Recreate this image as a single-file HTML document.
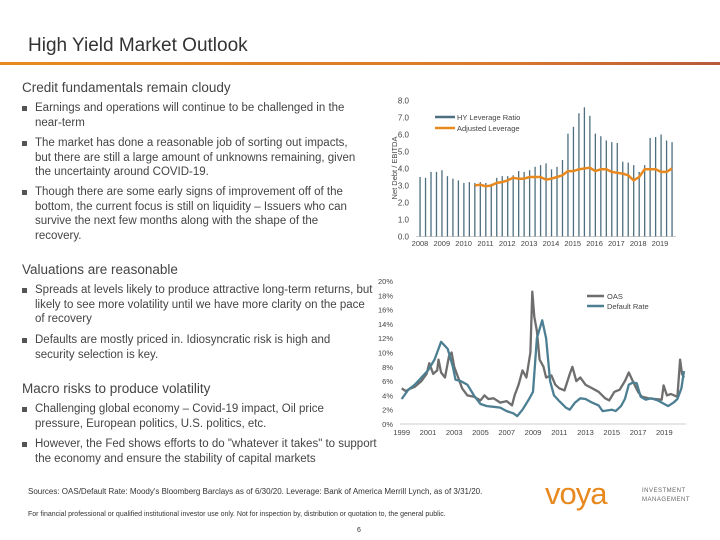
<!DOCTYPE html>
<html><head><meta charset="utf-8"><style>
body{margin:0;width:720px;height:540px;background:#fff;font-family:"Liberation Sans",sans-serif;color:#333;position:relative;overflow:hidden}
.a{position:absolute}
.h{font-size:13.5px;color:#444}
.b{font-size:11.5px;line-height:14.5px;color:#444;padding-left:15px;width:330px}
.b:before{content:"";position:absolute;left:2px;top:5px;width:5px;height:5px;background:#555}
svg text{font-family:"Liberation Sans",sans-serif}
</style></head><body>
<div class="a" style="left:28px;top:35px;font-size:19px;color:#333">High Yield Market Outlook</div>
<div class="a" style="left:0;top:62px;width:720px;height:3px;background:linear-gradient(90deg,#e8891f,#d9782c 70%,#b85a3a)"></div>
<div class="a h" style="left:22px;top:80px">Credit fundamentals remain cloudy</div>
<div class="a b" style="left:20px;top:101px">Earnings and operations will continue to be challenged in the near-term</div>
<div class="a b" style="left:20px;top:136px">The market has done a reasonable job of sorting out impacts, but there are still a large amount of unknowns remaining, given the uncertainty around COVID-19.</div>
<div class="a b" style="left:20px;top:185px">Though there are some early signs of improvement off of the bottom, the current focus is still on liquidity – Issuers who can survive the next few months along with the shape of the recovery.</div>
<div class="a h" style="left:22px;top:262px">Valuations are reasonable</div>
<div class="a b" style="left:20px;top:283px;width:340px">Spreads at levels likely to produce attractive long-term returns, but likely to see more volatility until we have more clarity on the pace of recovery</div>
<div class="a b" style="left:20px;top:333px">Defaults are mostly priced in. Idiosyncratic risk is high and security selection is key.</div>
<div class="a h" style="left:22px;top:381px">Macro risks to produce volatility</div>
<div class="a b" style="left:20px;top:402px">Challenging global economy – Covid-19 impact, Oil price pressure, European politics, U.S. politics, etc.</div>
<div class="a b" style="left:20px;top:437px;width:350px">However, the Fed shows efforts to do "whatever it takes" to support the economy and ensure the stability of capital markets</div>
<div class="a" style="left:28px;top:487px;font-size:8px;color:#333">Sources: OAS/Default Rate: Moody's Bloomberg Barclays as of 6/30/20. Leverage: Bank of America Merrill Lynch, as of 3/31/20.</div>
<div class="a" style="left:28px;top:511px;font-size:7px;color:#333">For financial professional or qualified institutional investor use only. Not for inspection by, distribution or quotation to, the general public.</div>
<div class="a" style="left:357px;top:527px;font-size:7px;color:#333">6</div>
<div class="a" style="left:545px;top:476px;font-size:31px;color:#e8891f;letter-spacing:-1px">voya<span style="font-size:6px">.</span></div>
<div class="a" style="left:642px;top:487px;font-size:6px;line-height:9px;color:#666;letter-spacing:.5px">INVESTMENT<br>MANAGEMENT</div>

<svg class="a" style="left:0;top:0" width="720" height="540">
<g id="c1"></g>
<g id="c2"></g>
</svg>
<script>
const levYears=["2008","2009","2010","2011","2012","2013","2014","2015","2016","2017","2018","2019"];
const levTicks=[0,1,2,3,4,5,6,7,8];
const hyLeverage=[3.5,3.45,3.8,3.8,3.9,3.55,3.4,3.3,3.15,3.2,3.15,3.2,3.15,3.1,3.45,3.55,3.55,3.6,3.85,3.8,3.9,4.1,4.2,4.3,3.95,4.1,4.5,6.05,6.45,7.25,7.6,7.1,6.05,5.9,5.65,5.55,5.5,4.4,4.35,4.2,3.8,4.2,5.8,5.85,6.0,5.65,5.55];
const adjLeverage=[null,null,null,null,null,null,null,null,null,null,3.0,3.05,2.95,3.0,3.15,3.2,3.3,3.45,3.4,3.4,3.5,3.5,3.5,3.35,3.4,3.5,3.6,3.85,3.85,3.95,4.0,4.05,3.85,3.95,3.95,3.8,3.75,3.7,3.6,3.3,3.5,3.95,3.95,3.95,3.8,3.8,4.0];
const pctTicks=[0,2,4,6,8,10,12,14,16,18,20];
const pctYears=[1999,2001,2003,2005,2007,2009,2011,2013,2015,2017,2019];
const oasX=[1999,1999.3,1999.7,2000,2000.5,2000.9,2001.1,2001.4,2001.7,2001.8,2002,2002.3,2002.6,2002.8,2003,2003.3,2003.6,2004,2004.5,2005,2005.3,2005.6,2006,2006.5,2007,2007.4,2007.6,2007.9,2008.2,2008.5,2008.8,2008.95,2009.1,2009.3,2009.5,2009.8,2010,2010.4,2010.7,2011,2011.4,2011.8,2012,2012.3,2012.6,2013,2013.5,2014,2014.5,2014.8,2015.2,2015.6,2016,2016.3,2016.6,2017,2017.3,2017.8,2018.3,2018.8,2018.95,2019.2,2019.5,2020,2020.2,2020.35,2020.5];
const oasY=[5.0,4.6,5.0,5.2,6.0,7.0,8.5,7.0,7.5,9.0,7.2,6.5,9.5,10.0,8.0,6.5,5.0,4.0,3.8,3.3,4.0,3.5,3.6,3.0,3.2,2.6,4.0,5.5,7.5,6.5,10,18.5,15,13,9,8,6.5,6.8,5.5,5.0,4.7,7.0,8.0,6.0,6.5,5.5,5.0,4.5,3.6,3.3,4.5,4.8,6.0,7.2,6.0,4.5,3.8,3.6,3.5,3.4,5.4,4.0,4.2,3.8,9.0,7.0,6.5];
const defX=[1999,1999.5,2000,2000.5,2001,2001.5,2002,2002.5,2002.9,2003.1,2003.5,2004,2004.5,2005,2005.5,2006,2006.5,2007,2007.5,2007.8,2008.2,2008.7,2009,2009.3,2009.7,2010,2010.3,2010.6,2011,2011.5,2011.8,2012.2,2012.6,2013,2013.5,2014,2014.3,2015,2015.3,2015.7,2016,2016.3,2016.6,2016.9,2017.2,2017.6,2018,2018.5,2019,2019.3,2019.7,2020,2020.3,2020.5];
const defY=[3.5,4.8,5.5,6.5,7.5,9.0,11.5,10.5,8.0,6.2,6.0,5.5,4.0,2.8,2.5,2.4,2.3,1.8,1.5,1.1,2.0,3.5,4.5,12,14.5,12,6,4,3.2,2.3,2.0,3.0,3.6,3.5,3.0,2.6,1.8,2.0,1.8,2.5,3.5,5.5,5.8,5.7,3.8,3.4,3.6,3.3,2.8,2.5,3.0,3.5,5.0,7.4];
const NS="http://www.w3.org/2000/svg";
function mk(p,t,at,txt){const e=document.createElementNS(NS,t);for(const k in at)e.setAttribute(k,at[k]);if(txt!=null)e.textContent=txt;p.appendChild(e);return e;}
// chart 1
const c1=document.getElementById('c1');
const y1=v=>236.5-v*17;
const bx0=420,bx1=672,bstep=(bx1-bx0)/(hyLeverage.length-1);
const x1=i=>bx0+i*bstep;
levTicks.forEach(t=>{const e=mk(c1,'text',{x:409,y:y1(t)+3,'font-size':8,'text-anchor':'end',fill:'#444'},t.toFixed(1));

});
let e=mk(c1,'line',{x1:416,x2:676,y1:y1(0),y2:y1(0),stroke:'#ccc','stroke-width':1});


hyLeverage.forEach((v,i)=>{const r=mk(c1,'rect',{x:x1(i)-0.6,y:y1(v),width:1.3,height:y1(0)-y1(v),fill:'#4e6f80'});

});
let d='';adjLeverage.forEach((v,i)=>{if(v==null)return;d+=(d?'L':'M')+x1(i).toFixed(1)+','+y1(v).toFixed(1);});
e=mk(c1,'path',{d:d,fill:'none',stroke:'#e8891f','stroke-width':2.5,'stroke-linejoin':'round'});


levYears.forEach((t,i)=>{const x=420+i*(660-420)/11;const l=mk(c1,'text',{x:x,y:246,'font-size':7.5,'text-anchor':'middle',fill:'#444'},t);

});
e=mk(c1,'text',{x:0,y:0,'font-size':7.5,fill:'#444','text-anchor':'middle',transform:'translate(397,168) rotate(-90)'},'Net Debt / EBITDA');


e=mk(c1,'line',{x1:435,x2:455,y1:117,y2:117,stroke:'#4e6f80','stroke-width':2.5});


e=mk(c1,'text',{x:457,y:120,'font-size':7.5,fill:'#444'},'HY Leverage Ratio');


e=mk(c1,'line',{x1:435,x2:455,y1:128,y2:128,stroke:'#e8891f','stroke-width':2.5});


e=mk(c1,'text',{x:457,y:131,'font-size':7.5,fill:'#444'},'Adjusted Leverage');


// chart 2
const c2=document.getElementById('c2');
const y2=v=>424-v*7.15;
const x2=yr=>401.7+(yr-1999)*13.13;
pctTicks.forEach(t=>{const l=mk(c2,'text',{x:393,y:y2(t)+3,'font-size':7.5,'text-anchor':'end',fill:'#444'},t+'%');

});
e=mk(c2,'line',{x1:400,x2:686,y1:y2(0),y2:y2(0),stroke:'#ccc','stroke-width':1});


pctYears.forEach(t=>{const l=mk(c2,'text',{x:x2(t),y:435,'font-size':7.5,'text-anchor':'middle',fill:'#444'},t);

});
function line(xs,ys,col,name){let p='';xs.forEach((x,i)=>{p+=(i?'L':'M')+x2(x).toFixed(1)+','+y2(ys[i]).toFixed(1);});
const l=mk(c2,'path',{d:p,fill:'none',stroke:col,'stroke-width':2.3,'stroke-linejoin':'round'});

}
line(oasX,oasY,'#6e6e6e','oas-line');
line(defX,defY,'#4d7f93','default-rate-line');
e=mk(c2,'line',{x1:587,x2:604,y1:296,y2:296,stroke:'#6e6e6e','stroke-width':2.5});


e=mk(c2,'text',{x:607,y:299,'font-size':7.5,fill:'#444'},'OAS');


e=mk(c2,'line',{x1:587,x2:604,y1:306,y2:306,stroke:'#4d7f93','stroke-width':2.5});


e=mk(c2,'text',{x:607,y:309,'font-size':7.5,fill:'#444'},'Default Rate');


</script>
</body></html>
